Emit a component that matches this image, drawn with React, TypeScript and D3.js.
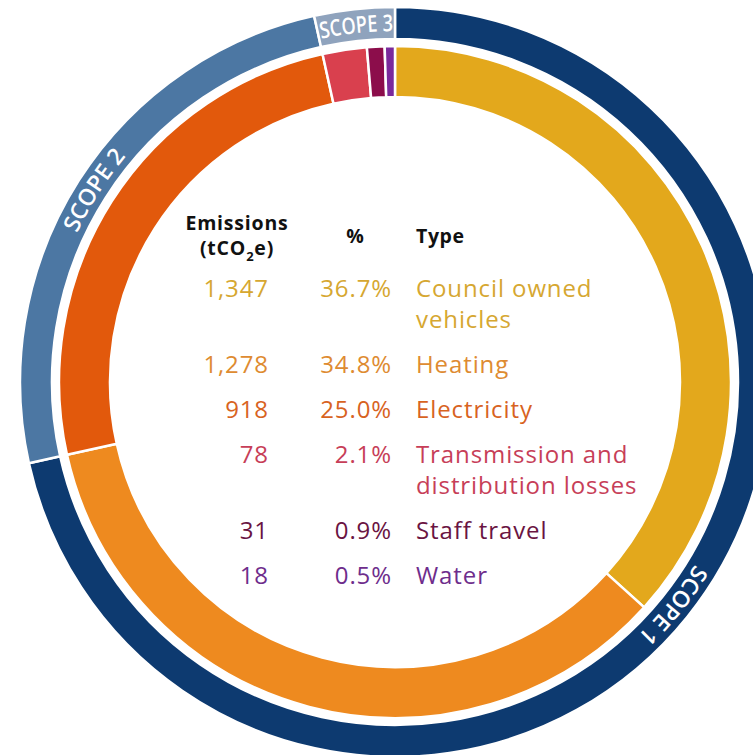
import React, { useEffect, useRef } from "react";
import * as d3 from "d3";

const types = ["Council owned vehicles", "Heating", "Electricity", "Transmission and distribution losses", "Staff travel", "Water"];
const typeLines = [["Council owned", "vehicles"], ["Heating"], ["Electricity"], ["Transmission and", "distribution losses"], ["Staff travel"], ["Water"]];
const emissions = [1347, 1278, 918, 78, 31, 18];
const percents = [36.7, 34.8, 25.0, 2.1, 0.9, 0.5];
const typeScope = ["SCOPE 1", "SCOPE 1", "SCOPE 2", "SCOPE 3", "SCOPE 3", "SCOPE 3"];
const scopes = ["SCOPE 1", "SCOPE 2", "SCOPE 3"];

const W = 753;
const H = 755;

const App = () => {
	const ref = useRef<SVGSVGElement>(null);

	useEffect(() => {
		const svg = d3.select(ref.current);
		svg.selectAll("*").remove();

		const cx = 395;
		const cy = 382;
		const font = "'Open Sans', 'Noto Sans', sans-serif";

		const ringColor = d3.scaleOrdinal<string, string>()
			.domain(types)
			.range(["#E3A81C", "#EE8A1F", "#E2590C", "#D9404E", "#8C0D4B", "#7A2A9C"]);
		const textColor = d3.scaleOrdinal<string, string>()
			.domain(types)
			.range(["#D6A731", "#DE8B31", "#D8631F", "#C73E58", "#6A1442", "#6E2D8C"]);
		const scopeColor = d3.scaleOrdinal<string, string>()
			.domain(scopes)
			.range(["#0D3A70", "#4C77A3", "#8FA3BD"]);

		const g = svg.append("g").attr("transform", `translate(${cx}, ${cy})`);

		// inner ring: emission types
		const rows = types.map((t, i) => ({ type: t, value: emissions[i], scope: typeScope[i] }));
		const pie = d3.pie<{ type: string; value: number }>().sort(null).value(d => d.value);
		const innerArc = d3.arc<d3.PieArcDatum<any>>().innerRadius(285).outerRadius(336);

		g.selectAll("path.type")
			.data(pie(rows))
			.enter()
			.append("path")
			.attr("class", "type")
			.attr("d", innerArc as any)
			.attr("fill", d => ringColor(d.data.type))
			.attr("stroke", "#fff")
			.attr("stroke-width", 2.5);

		// outer ring: scopes
		const scopeTotals = scopes.map(s => ({
			scope: s,
			value: d3.sum(rows.filter(r => r.scope === s), r => r.value)
		}));
		const scopePie = d3.pie<{ scope: string; value: number }>().sort(null).value(d => d.value);
		const outerArc = d3.arc<d3.PieArcDatum<any>>().innerRadius(343).outerRadius(375);
		const scopeArcs = scopePie(scopeTotals);

		g.selectAll("path.scope")
			.data(scopeArcs)
			.enter()
			.append("path")
			.attr("class", "scope")
			.attr("d", outerArc as any)
			.attr("fill", d => scopeColor(d.data.scope))
			.attr("stroke", "#fff")
			.attr("stroke-width", 2.5);

		// scope labels along the ring
		const labelR = 351;
		const defs = svg.append("defs");
		scopeArcs.forEach((d, i) => {
			const mid = (d.startAngle + d.endAngle) / 2;
			const a0 = mid - Math.PI / 3;
			const a1 = mid + Math.PI / 3;
			const p = d3.path();
			p.arc(0, 0, labelR, a0 - Math.PI / 2, a1 - Math.PI / 2, false);
			defs.append("path").attr("id", `scope-path-${i}`).attr("d", p.toString());

			const arcLen = (d.endAngle - d.startAngle) * labelR;
			const text = g.append("text")
				.attr("font-family", font)
				.attr("font-size", 23)
				.attr("font-weight", 600)
				.attr("fill", "#fff");
			const tp = text.append("textPath")
				.attr("href", `#scope-path-${i}`)
				.attr("startOffset", "50%")
				.attr("text-anchor", "middle")
				.text(d.data.scope);
			if (arcLen < 95) {
				tp.attr("textLength", arcLen - 4).attr("lengthAdjust", "spacingAndGlyphs");
			}
		});

		// table in the middle
		const t = svg.append("g").attr("font-family", font);
		const colEm = 269;
		const colPct = 392;
		const colType = 416;

		const hdr = t.append("g").attr("font-size", 19.5).attr("font-weight", 700).attr("fill", "#111");
		hdr.append("text").attr("x", 237).attr("y", 230).attr("text-anchor", "middle").attr("letter-spacing", 0.8).text("Emissions");
		const sub = hdr.append("text").attr("x", 237).attr("y", 255).attr("text-anchor", "middle").attr("letter-spacing", 0.8);
		sub.append("tspan").text("(tCO");
		sub.append("tspan").attr("font-size", 13).attr("dy", 6).text("2");
		sub.append("tspan").attr("dy", -6).text("e)");
		hdr.append("text").attr("x", 355).attr("y", 243).attr("text-anchor", "middle").text("%");
		hdr.append("text").attr("x", colType).attr("y", 243).attr("letter-spacing", 0.6).text("Type");

		const fmtEm = d3.format(",");
		const fmtPct = (v: number) => d3.format(".1f")(v) + "%";
		const rowStep = 45;
		const lineStep = 31;
		let y = 297;
		types.forEach((tp, i) => {
			const row = t.append("g")
				.attr("font-size", 24)
				.attr("letter-spacing", 0.9)
				.attr("fill", textColor(tp));
			row.append("text").attr("x", colEm).attr("y", y).attr("text-anchor", "end").text(fmtEm(emissions[i]));
			row.append("text").attr("x", colPct).attr("y", y).attr("text-anchor", "end").text(fmtPct(percents[i]));
			const lbl = row.append("text").attr("x", colType).attr("y", y);
			typeLines[i].forEach((ln, j) => {
				lbl.append("tspan").attr("x", colType).attr("dy", j === 0 ? 0 : lineStep).text(ln);
			});
			y += rowStep + lineStep * (typeLines[i].length - 1);
		});
	}, []);

	return (
		<svg
			ref={ref}
			width={W}
			height={H}
			style={{ position: "absolute", left: 0, top: 0, background: "#fff" }}
		/>
	);
};

export default App;
